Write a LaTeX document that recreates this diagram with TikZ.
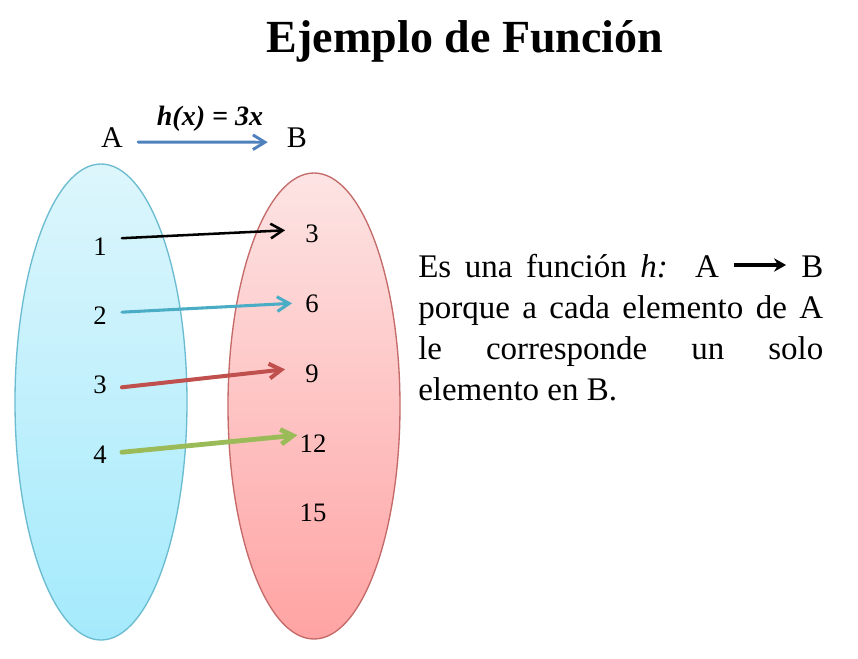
\documentclass[tikz,border=0pt]{standalone}
\usepackage{fontspec}
\setmainfont{Liberation Serif}
\usetikzlibrary{arrows.meta,calc}
\definecolor{blueTop}{HTML}{DDF6FC}
\definecolor{blueBot}{HTML}{A4EAFC}
\definecolor{blueLine}{HTML}{6BBCD0}
\definecolor{pinkTop}{HTML}{FDE4E4}
\definecolor{pinkBot}{HTML}{FFA3A3}
\definecolor{pinkLine}{HTML}{C46A68}
\definecolor{arrBlue}{HTML}{4F81BD}
\definecolor{arrCyan}{HTML}{4BACC6}
\definecolor{arrRed}{HTML}{C0504D}
\definecolor{arrGreen}{HTML}{9BBB59}
\tikzset{
  num/.style={inner sep=0pt, anchor=base, font=\fontsize{20pt}{24pt}\selectfont},
  setlbl/.style={inner sep=0pt, anchor=base, font=\fontsize{22.5pt}{27pt}\selectfont},
  maparrow/.style={-{Straight Barb[length=9pt,width=11pt]}, line cap=round},
}
\newcommand{\mylongarrow}{\tikz[baseline={(0,-9pt)}]\draw[-{Stealth[length=9pt,width=10pt]}, line width=2.4pt] (0,0) -- (39pt,0);}
\begin{document}
\begin{tikzpicture}[x=0.75pt,y=-0.75pt]
\useasboundingbox (0,0) rectangle (858,658);
\fill[white] (0,0) rectangle (858,658);
% title
\node[inner sep=0pt, anchor=base, font=\fontsize{34.5pt}{40pt}\selectfont\bfseries] (title) at (465,52) {Ejemplo de Función};
% ellipses
\shade[top color=blueTop, bottom color=blueBot] (101,402) ellipse [x radius=86, y radius=238];
\draw[blueLine, line width=1pt] (101,402) ellipse [x radius=86, y radius=238];
\shade[top color=pinkTop, bottom color=pinkBot] (314,406) ellipse [x radius=86, y radius=233];
\draw[pinkLine, line width=1pt] (314,406) ellipse [x radius=86, y radius=233];
% set labels
\node[setlbl] (A) at (112,147) {A};
\node[setlbl] (B) at (297,147) {B};
\node[inner sep=0pt, anchor=base, font=\fontsize{21pt}{25pt}\selectfont\bfseries\itshape] (hx) at (210,125) {h(x) = 3x};
\draw[maparrow, arrBlue, line width=2.2pt] ($(A.east)+(15,5)$) -- ($(B.west)+(-19,5)$);
% elements
\node[num] (a1) at (100,255) {1};
\node[num] (a2) at (100,324) {2};
\node[num] (a3) at (100,393) {3};
\node[num] (a4) at (100,463) {4};
\node[num] (b3) at (312,242) {3};
\node[num] (b6) at (312,312) {6};
\node[num] (b9) at (312,382) {9};
\node[num] (b12) at (313,452) {12};
\node[num] (b15) at (313,521) {15};
% arrows
\draw[maparrow, black, line width=1.9pt] ($(a1.east)+(15,-8)$) -- ($(b3.west)+(-20,-3)$);
\draw[maparrow, arrCyan, line width=2.3pt] ($(a2.east)+(15,-3)$) -- ($(b6.west)+(-13,0)$);
\draw[maparrow, arrRed, line width=3pt] ($(a3.east)+(15,3)$) -- ($(b9.west)+(-20,-4)$);
\draw[maparrow, arrGreen, line width=3.6pt] ($(a4.east)+(15,-2)$) -- ($(b12.west)+(-2,-8)$);
% explanation
\node[inner sep=0pt, anchor=base west, font=\fontsize{24.75pt}{30.75pt}\selectfont] (txt) at (418,277)
  {\parbox[t]{303.75pt}{Es una función \textit{h:}\ \ A \mylongarrow\ B\linebreak porque a cada elemento de A\linebreak le corresponde un solo\linebreak elemento en B.}};
\end{tikzpicture}
\end{document}
